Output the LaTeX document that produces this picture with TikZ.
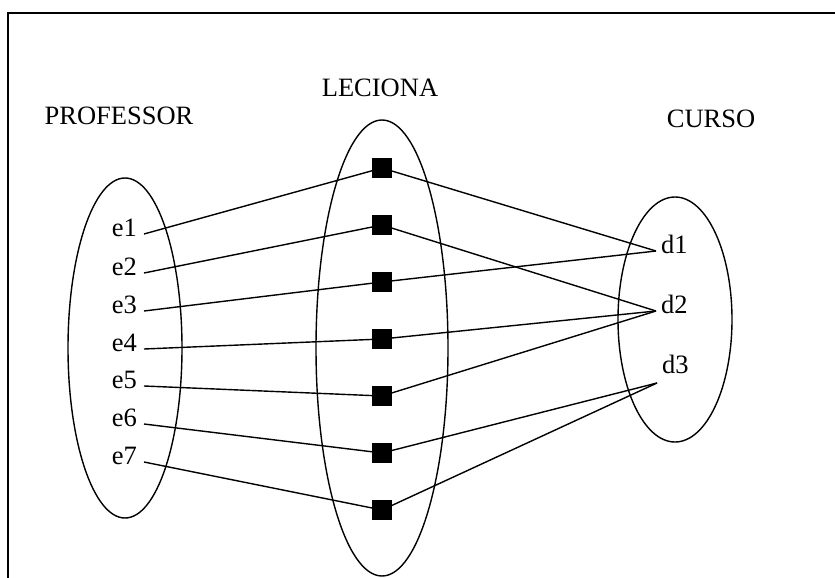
\documentclass[tikz,border=0pt]{standalone}
\usepackage{fontspec}
\setmainfont{Liberation Serif}
\begin{document}
\begin{tikzpicture}[x=1pt,y=-1pt,
  every node/.style={font=\fontsize{26.5}{30}\selectfont},
  rel/.style={fill=black,minimum size=20pt,inner sep=0pt},
  conn/.style={line width=1.4pt},
  set/.style={line width=1.4pt},
  elabel/.style={anchor=mid east,inner xsep=7pt,inner ysep=0pt},
  dlabel/.style={anchor=mid west,inner xsep=5pt,inner ysep=0pt}]
\useasboundingbox (0,0) rectangle (835,578);
% frame
\draw[line width=2pt] (8,578) -- (8,13) -- (835,13);
% titles
\node[anchor=base] (tprof) at (119,124) {PROFESSOR};
\node[anchor=base] (tlec) at (380,96) {LECIONA};
\node[anchor=base] (tcur) at (711,127) {CURSO};
% sets
\draw[set] (125,348) ellipse [x radius=57, y radius=170];
\draw[set] (382,348) ellipse [x radius=66, y radius=228];
\draw[set] (675,319.5) ellipse [x radius=57, y radius=122.5];
% professors
\foreach \i/\y in {1/234,2/273,3/311,4/349,5/386,6/424,7/462}
  \node[elabel] (e\i) at (144,\y) {e\i};
% courses
\node[dlabel] (d1) at (656,251) {d1};
\node[dlabel] (d2) at (656,311) {d2};
\node[anchor=base west,inner xsep=5pt] (d3) at (657,373) {d3};
\coordinate (d3end) at ([yshift=-10pt]d3.base west);
% relationship instances
\foreach \i/\y in {1/168,2/225,3/282,4/339,5/396,6/453,7/510}
  \node[rel] (s\i) at (382,\y) {};
% connectors
\foreach \i in {1,...,7}
  \draw[conn] (e\i.mid east) -- (s\i.center);
\draw[conn] (s1.center) -- (d1.mid west);
\draw[conn] (s3.center) -- (d1.mid west);
\draw[conn] (s2.center) -- (d2.mid west);
\draw[conn] (s4.center) -- (d2.mid west);
\draw[conn] (s5.center) -- (d2.mid west);
\draw[conn] (s6.center) -- (d3end);
\draw[conn] (s7.center) -- (d3end);
% squares drawn again over the line ends
\foreach \i in {1,...,7}
  \node[rel] at (s\i.center) {};
\end{tikzpicture}
\end{document}
